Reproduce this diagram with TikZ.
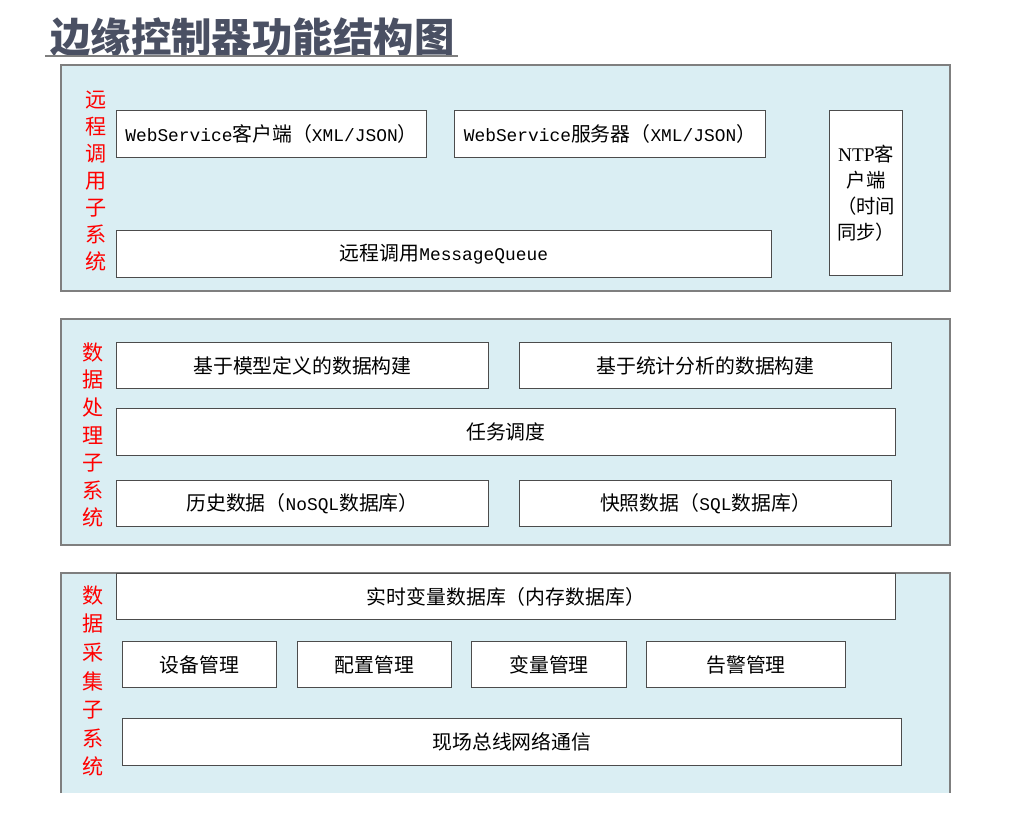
\documentclass[tikz,border=0pt]{standalone}
\usepackage{fontspec}
\setmainfont{Noto Sans CJK SC}
\newfontfamily\mono[Scale=0.9]{Liberation Mono}
\newfontfamily\tms{Liberation Serif}
\definecolor{panelfill}{HTML}{DAEEF3}
\definecolor{panelline}{HTML}{7F7F7F}
\definecolor{titlecol}{HTML}{4A5063}

\tikzset{
  modbox/.style={draw=black!70, line width=0.6pt, fill=white, anchor=north west,
    font=\fontsize{11.3}{13}\selectfont, inner sep=0pt, minimum height=0.94cm},
  sublabel/.style={text=red, align=center, inner sep=0pt},
  panel/.style={fill=panelfill, draw=panelline, line width=1.2pt}
}

\begin{document}
\begin{tikzpicture}[x=0.02cm, y=-0.02cm]
    \useasboundingbox (0,0) rectangle (1012,818);

    % Titel
    \node[anchor=west, text=titlecol, inner sep=0pt,
      font=\fontsize{23}{26}\selectfont\bfseries] (title) at (50,37) {边缘控制器功能结构图};
    \draw[panelline, line width=1pt] (45,56) -- (458,56);

    % Remote call subsystem
    \draw[panel] (61,65) rectangle (950,291);
    \node[sublabel, font=\fontsize{12}{15.3}\selectfont] (remote) at (96,181) {远\\程\\调\\用\\子\\系\\统};
    \node[modbox, minimum width=6.2cm] (wsc) at (116,110) {{\mono WebService}客户端（{\mono XML/JSON}）};
    \node[modbox, minimum width=6.22cm] (wss) at (454,110) {{\mono WebService}服务器（{\mono XML/JSON}）};
    \node[modbox, minimum width=13.1cm] (mq) at (116,230) {远程调用{\mono MessageQueue}};
    \node[modbox, minimum width=1.46cm, minimum height=3.3cm, align=center,
      font=\fontsize{11}{14.7}\selectfont] (ntp) at (829,110) {{\tms NTP}客\\户端\\（时间\\同步）};

    % Data processing subsystem
    \draw[panel] (61,319) rectangle (950,545);
    \node[sublabel, font=\fontsize{12}{15.7}\selectfont] (process) at (93,435) {数\\据\\处\\理\\子\\系\\统};
    \node[modbox, minimum width=7.44cm, minimum height=0.92cm] (model) at (116,342) {基于模型定义的数据构建};
    \node[modbox, minimum width=7.44cm, minimum height=0.92cm] (stat) at (519,342) {基于统计分析的数据构建};
    \node[modbox, minimum width=15.58cm] (task) at (116,408) {任务调度};
    \node[modbox, minimum width=7.44cm, minimum height=0.92cm] (hist) at (116,480) {历史数据（{\mono NoSQL}数据库）};
    \node[modbox, minimum width=7.44cm, minimum height=0.92cm] (snap) at (519,480) {快照数据（{\mono SQL}数据库）};

    % Data acquisition subsystem
    \fill[panelfill] (61,573) rectangle (950,793);
    \draw[panelline, line width=1.2pt] (61,793) -- (61,573) -- (950,573) -- (950,793);
    \node[sublabel, font=\fontsize{12}{16.3}\selectfont] (acquire) at (93,681) {数\\据\\采\\集\\子\\系\\统};
    \node[modbox, minimum width=15.58cm, minimum height=0.92cm] (rtdb) at (116,573) {实时变量数据库（内存数据库）};
    \node[modbox, minimum width=3.08cm, minimum height=0.92cm] (device) at (122,641) {设备管理};
    \node[modbox, minimum width=3.08cm, minimum height=0.92cm] (config) at (297,641) {配置管理};
    \node[modbox, minimum width=3.1cm, minimum height=0.92cm] (var) at (471,641) {变量管理};
    \node[modbox, minimum width=3.98cm, minimum height=0.92cm] (alarm) at (646,641) {告警管理};
    \node[modbox, minimum width=15.58cm] (bus) at (122,718) {现场总线网络通信};

\end{tikzpicture}
\end{document}
